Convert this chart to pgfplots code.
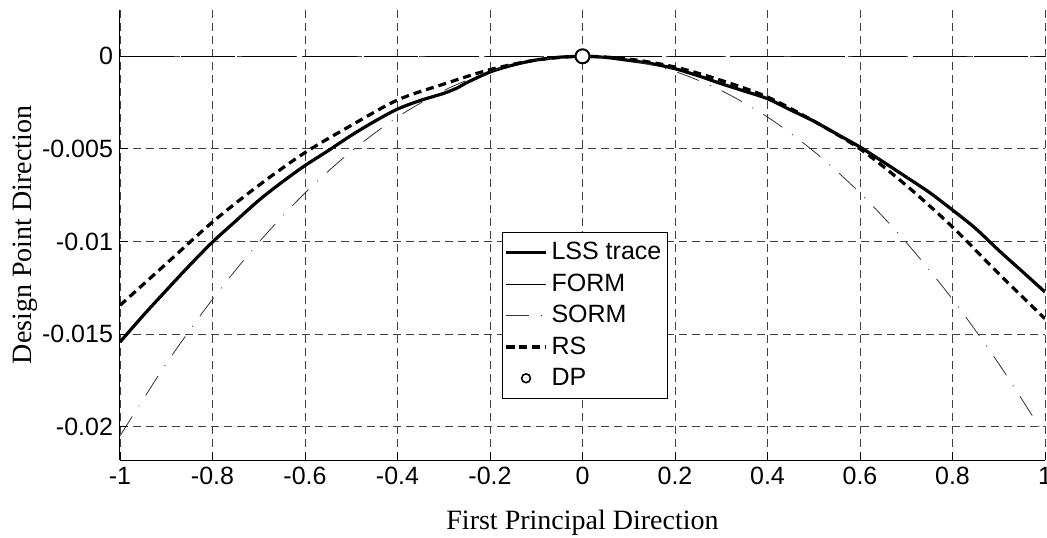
\documentclass[border=0pt]{standalone}
\usepackage{fontspec}
\setmainfont{Liberation Sans}
\newfontfamily\timesfont{Liberation Serif}
\usepackage{pgfplots}
\pgfplotsset{compat=1.18}
\usepackage{pgfplotstable}
\usetikzlibrary{calc}

% LSS trace
\pgfplotstableread{
x y
-1 -0.01543
-0.95 -0.0140
-0.9 -0.01264
-0.85 -0.0113
-0.8 -0.01003
-0.75 -0.0089
-0.7 -0.00778
-0.65 -0.0068
-0.6 -0.0059
-0.55 -0.0051
-0.5 -0.00427
-0.45 -0.00352
-0.4 -0.00285
-0.35 -0.00238
-0.3 -0.002
-0.27 -0.0017
-0.25 -0.00142
-0.2 -0.00085
-0.15 -0.00047
-0.1 -0.0002
-0.05 -0.00005
0 0
0.05 -0.00006
0.1 -0.00022
0.15 -0.0004
0.2 -0.00067
0.25 -0.00105
0.3 -0.00148
0.35 -0.00188
0.4 -0.00229
0.45 -0.0029
0.5 -0.0035
0.55 -0.0042
0.6 -0.0049
0.65 -0.0057
0.7 -0.00652
0.75 -0.00735
0.8 -0.0083
0.85 -0.0093
0.9 -0.01048
0.95 -0.0116
1 -0.01273
}\lsstable

% RS
\pgfplotstableread{
x y
-1 -0.01345
-0.9 -0.0112
-0.8 -0.00895
-0.7 -0.00697
-0.6 -0.0052
-0.5 -0.00373
-0.4 -0.00236
-0.3 -0.0015
-0.2 -0.00072
-0.1 -0.0002
0 0
0.1 -0.00015
0.2 -0.00058
0.3 -0.0013
0.4 -0.0022
0.5 -0.0035
0.6 -0.005
0.7 -0.00697
0.8 -0.00922
0.9 -0.01174
1 -0.01417
}\rstable

% SORM
\pgfplotstableread{
x y
-1 -0.0205
-0.9 -0.0166
-0.8 -0.01312
-0.7 -0.01005
-0.6 -0.00738
-0.5 -0.00513
-0.4 -0.00328
-0.3 -0.00185
-0.2 -0.00082
-0.1 -0.000205
0 0
0.1 -0.000205
0.2 -0.00082
0.3 -0.00185
0.4 -0.00328
0.5 -0.00513
0.6 -0.00738
0.7 -0.01005
0.8 -0.01312
0.9 -0.0166
1 -0.0205
}\sormtable

\begin{document}
\begin{tikzpicture}
\begin{axis}[
  name=ax,
  scale only axis,
  width=462.5pt, height=225pt,
  xmin=-1, xmax=1,
  ymin=-0.0218, ymax=0.0025,
  axis x line*=bottom,
  axis y line*=left,
  axis line style={line width=0.5pt},
  xtick={-1,-0.8,-0.6,-0.4,-0.2,0,0.2,0.4,0.6,0.8,1},
  xticklabels={-1,-0.8,-0.6,-0.4,-0.2,0,0.2,0.4,0.6,0.8,1},
  ytick={-0.02,-0.015,-0.01,-0.005,0},
  yticklabels={-0.02,-0.015,-0.01,-0.005,0},
  tick align=inside,
  major tick length=4pt,
  tick style={black, line width=0.4pt},
  ticklabel style={font=\fontsize{12.5}{14}\selectfont},
  grid=major,
  major grid style={dash pattern=on 4pt off 2.5pt, black!75, line width=0.4pt},
  xlabel={First Principal Direction},
  ylabel={Design Point Direction},
  label style={font=\timesfont\fontsize{14}{16}\selectfont},
  xlabel style={yshift=-6pt},
  ylabel style={yshift=-4.5pt},
  legend style={at={(rel axis cs:0.413,0.507)}, anchor=north west,
    font=\fontsize{12.5}{15}\selectfont, draw=black, line width=0.5pt,
    fill=white, inner xsep=1pt, inner ysep=3pt, row sep=1.5pt},
  legend cell align=left,
  legend image code/.code={\draw[mark repeat=2,mark phase=2,#1]
    plot coordinates {(0cm,0cm) (0.35cm,0cm) (0.7cm,0cm)};},
]
\addplot[black, line width=1.6pt, smooth] table[x=x,y=y] {\lsstable};
\addlegendentry{LSS trace}
\addplot[black, line width=0.4pt, dash pattern=on 27pt off 3.5pt] coordinates {(-1,0) (1,0)};
\addlegendentry{FORM}
\addplot[black!80, line width=0.4pt, smooth, dash pattern=on 11.5pt off 6pt on 0.5pt off 6pt] table[x=x,y=y] {\sormtable};
\addlegendentry{SORM}
\addplot[black, line width=1.6pt, smooth, dash pattern=on 4pt off 2.5pt] table[x=x,y=y] {\rstable};
\addlegendentry{RS}
\addplot[only marks, mark=*, mark size=3.5pt, mark options={fill=white, draw=black, line width=1pt},
  legend image post style={mark size=2.2pt, mark options={fill=white, draw=black, line width=0.8pt}}] coordinates {(0,0)};
\addlegendentry{DP}
\end{axis}
\pgfresetboundingbox
\path[use as bounding box] ($(ax.south west)+(-60pt,-38.5pt)$) rectangle ($(ax.south west)+(463.5pt,230pt)$);
\end{tikzpicture}
\end{document}
